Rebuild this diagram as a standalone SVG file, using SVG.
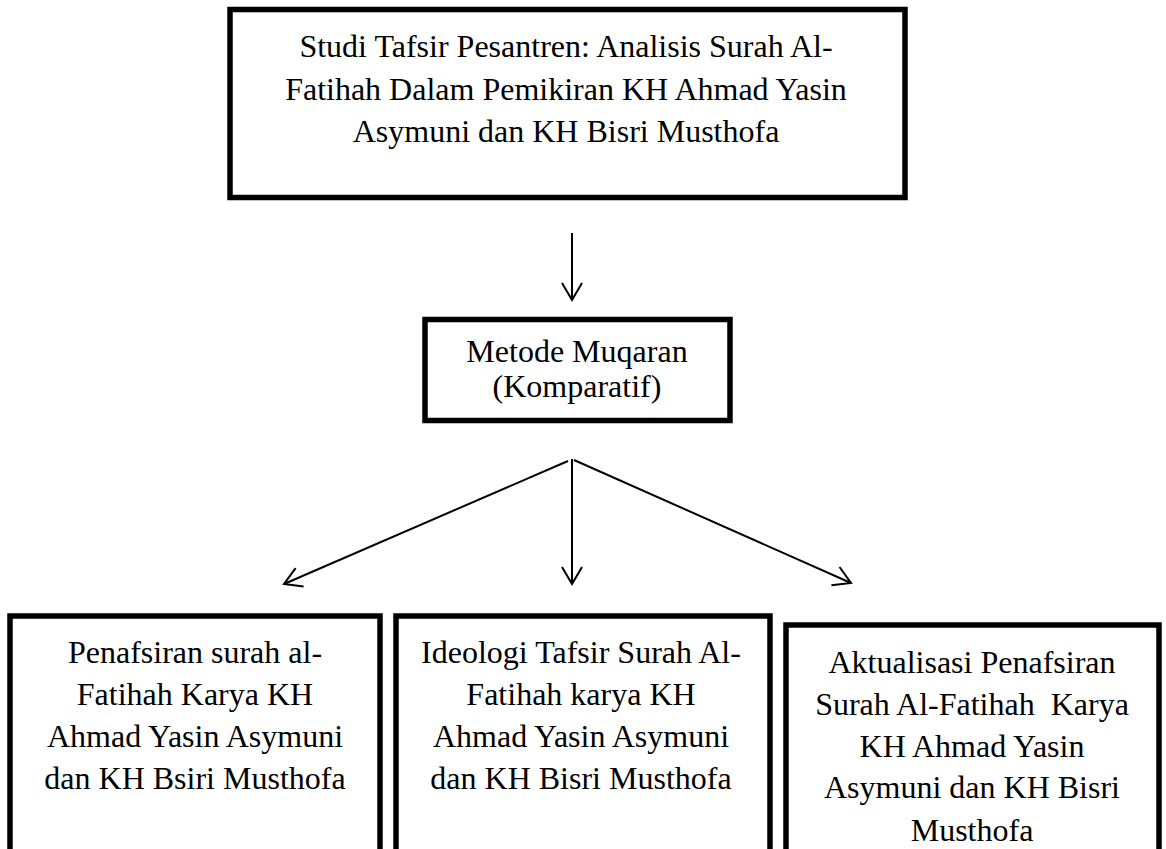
<svg xmlns="http://www.w3.org/2000/svg" width="1166" height="849" viewBox="0 0 1166 849">
<defs>
<style>
.box{fill:#fff;stroke:#000;stroke-width:5.5}
.t{font-family:"Liberation Serif","Times New Roman",serif;font-size:32px;fill:#000;text-anchor:middle}
.c{stroke:#000;stroke-width:2;fill:none;marker-end:url(#ah)}
</style>
<marker id="ah" markerUnits="userSpaceOnUse" markerWidth="24" markerHeight="26" refX="20" refY="12" orient="auto">
<path d="M3,2 L20,12 L3,22" fill="none" stroke="#000" stroke-width="2"/>
</marker>
</defs>
<rect width="1166" height="849" fill="#fff"/>
<g id="connectors">
<line class="c" x1="572" y1="233" x2="572" y2="300"/>
<line class="c" x1="568" y1="461" x2="284" y2="584"/>
<line class="c" x1="572" y1="459" x2="572" y2="584"/>
<line class="c" x1="574" y1="460" x2="851" y2="583"/>
</g>
<g id="node-title">
<rect class="box" x="230" y="9.5" width="675" height="188"/>
<text class="t" x="566" y="57">Studi Tafsir Pesantren: Analisis Surah Al-</text>
<text class="t" x="566" y="99.5">Fatihah Dalam Pemikiran KH Ahmad Yasin</text>
<text class="t" x="566" y="142">Asymuni dan KH Bisri Musthofa</text>
</g>
<g id="node-method">
<rect class="box" x="425" y="319.5" width="305" height="101"/>
<text class="t" x="577" y="362">Metode Muqaran</text>
<text class="t" x="577" y="397">(Komparatif)</text>
</g>
<g id="node-penafsiran">
<rect class="box" x="10" y="616" width="370" height="260"/>
<text class="t" x="195" y="663">Penafsiran surah al-</text>
<text class="t" x="195" y="705">Fatihah Karya KH</text>
<text class="t" x="195" y="747">Ahmad Yasin Asymuni</text>
<text class="t" x="195" y="789">dan KH Bsiri Musthofa</text>
</g>
<g id="node-ideologi">
<rect class="box" x="396" y="616" width="374" height="260"/>
<text class="t" x="581" y="663">Ideologi Tafsir Surah Al-</text>
<text class="t" x="581" y="705">Fatihah karya KH</text>
<text class="t" x="581" y="747">Ahmad Yasin Asymuni</text>
<text class="t" x="581" y="789">dan KH Bisri Musthofa</text>
</g>
<g id="node-aktualisasi">
<rect class="box" x="786" y="625" width="373" height="260"/>
<text class="t" x="972" y="673">Aktualisasi Penafsiran</text>
<text class="t" x="972" y="715" xml:space="preserve">Surah Al-Fatihah  Karya</text>
<text class="t" x="972" y="757">KH Ahmad Yasin</text>
<text class="t" x="972" y="798">Asymuni dan KH Bisri</text>
<text class="t" x="972" y="841">Musthofa</text>
</g>
</svg>
